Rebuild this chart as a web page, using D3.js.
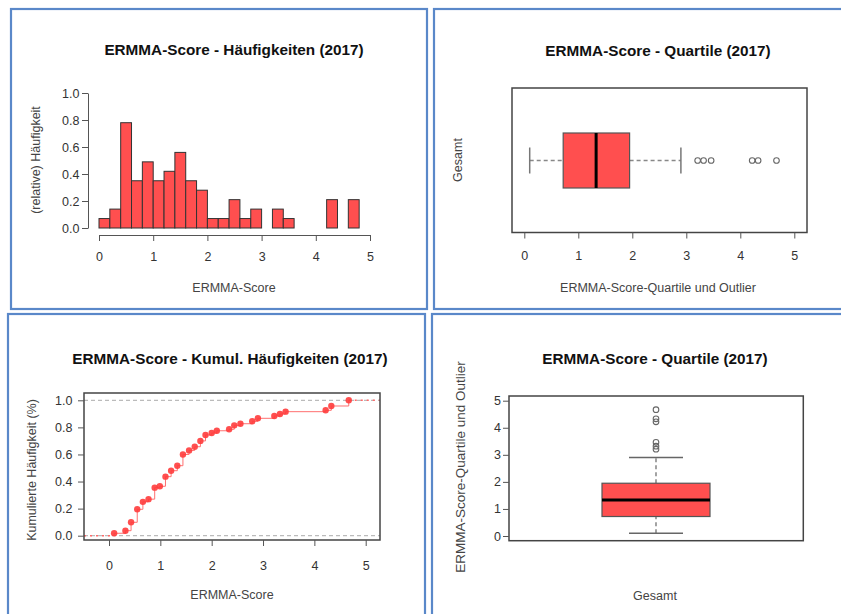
<!DOCTYPE html>
<html>
<head>
<meta charset="utf-8">
<script src="https://cdn.jsdelivr.net/npm/d3@7"></script>
<style>
body { margin: 0; background: #fff; }
svg { display: block; font-family: "Liberation Sans", Arial, sans-serif; }
</style>
</head>
<body>
<script>
// histogram: bin start (width 0.2) and density
var binStart = [0, 0.2, 0.4, 0.6, 0.8, 1.0, 1.2, 1.4, 1.6, 1.8, 2.0, 2.2, 2.4, 2.6, 2.8, 3.0, 3.2, 3.4, 3.6, 3.8, 4.0, 4.2, 4.4, 4.6];
var binDensity = [0.07, 0.14, 0.78, 0.35, 0.49, 0.35, 0.42, 0.56, 0.35, 0.28, 0.07, 0.07, 0.21, 0.07, 0.14, 0, 0.14, 0.07, 0, 0, 0, 0.21, 0, 0.21];
var binWidth = 0.2;
// ecdf points
var ecdfX = [0.10, 0.32, 0.43, 0.55, 0.66, 0.77, 0.89, 0.99, 1.10, 1.21, 1.33, 1.44, 1.56, 1.67, 1.78, 1.88, 2.00, 2.10, 2.34, 2.44, 2.56, 2.79, 2.90, 3.22, 3.33, 3.44, 4.22, 4.33, 4.67];
var ecdfY = [0.018, 0.037, 0.099, 0.195, 0.25, 0.27, 0.355, 0.365, 0.436, 0.48, 0.517, 0.60, 0.63, 0.657, 0.70, 0.744, 0.758, 0.775, 0.786, 0.815, 0.827, 0.845, 0.867, 0.884, 0.899, 0.916, 0.926, 0.958, 1.0];
// boxplot stats
var whiskerLow = 0.10, q1 = 0.72, median = 1.33, q3 = 1.95, whiskerHigh = 2.90;
var outliers = [3.21, 3.32, 3.46, 4.22, 4.33, 4.67];
var scoreTicks = [0, 1, 2, 3, 4, 5];
var probTicks = [0, 0.2, 0.4, 0.6, 0.8, 1.0];

var W = 841, H = 614;
var red = "#ff4f4f";
var txt = "#333";
var axisCol = "#555";
var tickFont = "12.5px";
var svg = d3.select("body").append("svg").attr("width", W).attr("height", H);

// panel borders
var panels = [[11, 9, 416, 300], [434, 9, 420, 300], [8, 314, 417, 320], [432, 314, 420, 320]];
svg.selectAll("rect.panel").data(panels).enter().append("rect").classed("panel", true)
    .attr("x", function (d) { return d[0]; })
    .attr("y", function (d) { return d[1]; })
    .attr("width", function (d) { return d[2]; })
    .attr("height", function (d) { return d[3]; })
    .style("fill", "none").style("stroke", "#5a88c9").style("stroke-width", 2.2);

function title(x, y, s) {
    svg.append("text").attr("x", x).attr("y", y).attr("text-anchor", "middle")
        .style("font-size", "15.3px").style("font-weight", "bold").style("fill", "#111").text(s);
}
function label(x, y, s, rot, size) {
    var t = svg.append("text").attr("text-anchor", "middle").style("font-size", size || "12.5px").style("fill", "#444").text(s);
    if (rot)
        t.attr("transform", "translate(" + x + "," + y + ") rotate(-90)");
    else
        t.attr("x", x).attr("y", y);
}
// R-style axis: line + ticks + labels
function xAxisAt(scale, y, ticks, fmt, pad) {
    var g = svg.append("g").attr("transform", "translate(0," + y + ")")
        .call(d3.axisBottom(scale).tickValues(ticks).tickSize(6).tickPadding(pad).tickFormat(fmt).tickSizeOuter(0));
    g.select(".domain").style("stroke", axisCol);
    g.selectAll(".tick line").style("stroke", axisCol);
    g.selectAll("text").style("font-size", tickFont).style("fill", txt).style("font-family", "Liberation Sans, Arial, sans-serif");
    return g;
}
function yAxisAt(scale, x, ticks, fmt, pad) {
    var g = svg.append("g").attr("transform", "translate(" + x + ",0)")
        .call(d3.axisLeft(scale).tickValues(ticks).tickSize(6).tickPadding(pad).tickFormat(fmt).tickSizeOuter(0));
    g.select(".domain").style("stroke", axisCol);
    g.selectAll(".tick line").style("stroke", axisCol);
    g.selectAll("text").style("font-size", tickFont).style("fill", txt).style("font-family", "Liberation Sans, Arial, sans-serif");
    return g;
}
function frame(x0, y0, x1, y1) {
    svg.append("rect").attr("x", x0).attr("y", y0).attr("width", x1 - x0).attr("height", y1 - y0)
        .style("fill", "none").style("stroke", "#444").style("stroke-width", 1.5);
}

// ---------- histogram ----------
var hx = d3.scaleLinear().domain([0, 5]).range([99, 370]);
var hy = d3.scaleLinear().domain([0, 1]).range([228, 93]);
title(234, 55, "ERMMA-Score - Häufigkeiten (2017)");
svg.append("g").selectAll("rect").data(binStart).enter().append("rect")
    .attr("x", function (d) { return hx(d); })
    .attr("y", function (d, i) { return hy(binDensity[i]); })
    .attr("width", function (d) { return hx(d + binWidth) - hx(d); })
    .attr("height", function (d, i) { return hy(0) - hy(binDensity[i]); })
    .style("fill", red).style("stroke", function (d, i) { return binDensity[i] == 0 ? "#999" : "#333"; })
    .style("stroke-width", 1);
xAxisAt(hx, 235, scoreTicks, d3.format("d"), 11);
yAxisAt(hy, 88, probTicks, d3.format(".1f"), 2.5);
label(234, 292, "ERMMA-Score");
label(40, 160, "(relative) Häufigkeit", true);

// ---------- horizontal boxplot ----------
var bx = d3.scaleLinear().domain([0, 5]).range([524.3, 794.3]);
var bcy = 160.5;
title(658, 56, "ERMMA-Score - Quartile (2017)");
frame(512, 88, 807, 232.5);
svg.append("line").attr("x1", bx(whiskerLow)).attr("x2", bx(q1)).attr("y1", bcy).attr("y2", bcy)
    .style("stroke", "#888").style("stroke-dasharray", "4,3").style("stroke-width", 1.5);
svg.append("line").attr("x1", bx(q3)).attr("x2", bx(whiskerHigh)).attr("y1", bcy).attr("y2", bcy)
    .style("stroke", "#888").style("stroke-dasharray", "4,3").style("stroke-width", 1.5);
[whiskerLow, whiskerHigh].forEach(function (v) {
    svg.append("line").attr("x1", bx(v)).attr("x2", bx(v)).attr("y1", bcy - 13).attr("y2", bcy + 13)
        .style("stroke", "#777").style("stroke-width", 1.5);
});
svg.append("rect").attr("x", bx(q1)).attr("y", bcy - 27.5).attr("width", bx(q3) - bx(q1)).attr("height", 55)
    .style("fill", red).style("stroke", "#555").style("stroke-width", 1.2);
svg.append("line").attr("x1", bx(median)).attr("x2", bx(median)).attr("y1", bcy - 27.5).attr("y2", bcy + 27.5)
    .style("stroke", "#000").style("stroke-width", 3);
svg.append("g").selectAll("circle").data(outliers).enter().append("circle")
    .attr("cx", function (d) { return bx(d); }).attr("cy", bcy).attr("r", 2.8)
    .style("fill", "none").style("stroke", "#666").style("stroke-width", 1.1);
var bxa = xAxisAt(bx, 232.5, scoreTicks, d3.format("d"), 13);
bxa.select(".domain").remove();
label(658, 292, "ERMMA-Score-Quartile und Outlier");
label(462, 160, "Gesamt", true);

// ---------- ecdf ----------
var ex = d3.scaleLinear().domain([0, 5]).range([109, 365.7]);
var ey = d3.scaleLinear().domain([0, 1]).range([535.7, 400.3]);
var eL = 84, eR = 380, eT = 393, eB = 540;
title(230, 364, "ERMMA-Score - Kumul. Häufigkeiten (2017)");
[0, 1].forEach(function (v) {
    svg.append("line").attr("x1", eL).attr("x2", eR).attr("y1", ey(v)).attr("y2", ey(v))
        .style("stroke", "#bbb").style("stroke-dasharray", "4,3").style("stroke-width", 1.2);
});
svg.append("line").attr("x1", eL).attr("x2", ex(ecdfX[0])).attr("y1", ey(0)).attr("y2", ey(0))
    .style("stroke", "#ff6a6a").style("stroke-dasharray", "2,4").style("stroke-width", 1.5);
svg.append("line").attr("x1", ex(ecdfX[ecdfX.length - 1])).attr("x2", eR).attr("y1", ey(1)).attr("y2", ey(1))
    .style("stroke", "#ff6a6a").style("stroke-dasharray", "2,4").style("stroke-width", 1.5);
var stepData = [[ecdfX[0], 0]].concat(ecdfX.map(function (d, i) { return [d, ecdfY[i]]; }));
var step = d3.line().x(function (d) { return ex(d[0]); }).y(function (d) { return ey(d[1]); }).curve(d3.curveStepAfter);
svg.append("path").attr("d", step(stepData)).style("fill", "none").style("stroke", "#ff7070").style("stroke-width", 1);
svg.append("g").selectAll("circle").data(ecdfX).enter().append("circle")
    .attr("cx", function (d) { return ex(d); })
    .attr("cy", function (d, i) { return ey(ecdfY[i]); })
    .attr("r", 3.2).style("fill", "#ff3c3c").style("opacity", 0.9);
frame(eL, eT, eR, eB);
var exa = xAxisAt(ex, eB, scoreTicks, d3.format("d"), 15);
exa.select(".domain").remove();
var eya = yAxisAt(ey, eL, probTicks, d3.format(".1f"), 5.5);
eya.select(".domain").remove();
label(232, 599, "ERMMA-Score");
label(36, 470, "Kumulierte Häufigkeit (%)", true);

// ---------- vertical boxplot ----------
var vy = d3.scaleLinear().domain([0, 5]).range([536, 400.7]);
var vcx = 656;
var vL = 509, vR = 803.3, vT = 396, vB = 540.7;
title(655, 364, "ERMMA-Score - Quartile (2017)");
frame(vL, vT, vR, vB);
svg.append("line").attr("x1", vcx).attr("x2", vcx).attr("y1", vy(whiskerLow)).attr("y2", vy(q1))
    .style("stroke", "#666").style("stroke-dasharray", "4,3").style("stroke-width", 1.2);
svg.append("line").attr("x1", vcx).attr("x2", vcx).attr("y1", vy(q3)).attr("y2", vy(whiskerHigh))
    .style("stroke", "#666").style("stroke-dasharray", "4,3").style("stroke-width", 1.2);
[whiskerLow, whiskerHigh].forEach(function (v) {
    svg.append("line").attr("x1", vcx - 27).attr("x2", vcx + 27).attr("y1", vy(v)).attr("y2", vy(v))
        .style("stroke", "#666").style("stroke-width", 1.5);
});
svg.append("rect").attr("x", vcx - 54).attr("y", vy(q3)).attr("width", 108).attr("height", vy(q1) - vy(q3))
    .style("fill", red).style("stroke", "#555").style("stroke-width", 1.2);
svg.append("line").attr("x1", vcx - 54).attr("x2", vcx + 54).attr("y1", vy(median)).attr("y2", vy(median))
    .style("stroke", "#000").style("stroke-width", 3);
svg.append("g").selectAll("circle").data(outliers).enter().append("circle")
    .attr("cx", vcx).attr("cy", function (d) { return vy(d); }).attr("r", 2.8)
    .style("fill", "none").style("stroke", "#666").style("stroke-width", 1.1);
var vya = yAxisAt(vy, vL, scoreTicks, d3.format("d"), 2);
vya.select(".domain").remove();
label(655, 600, "Gesamt");
label(465, 467, "ERMMA-Score-Quartile und Outlier", true, "13.5px");
</script>
</body>
</html>
